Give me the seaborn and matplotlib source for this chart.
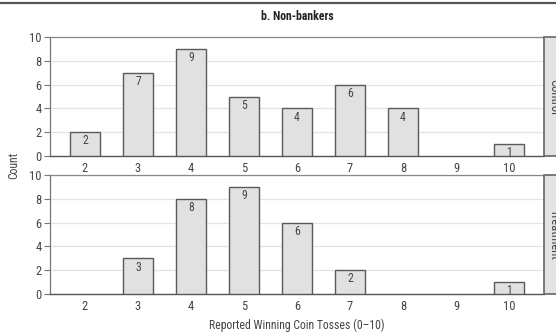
import matplotlib
matplotlib.use("Agg")
import matplotlib.pyplot as plt
import seaborn as sns
import pandas as pd
from matplotlib.patches import Rectangle
from matplotlib.lines import Line2D

# Reported winning coin tosses for non-bankers, by condition
tosses = [2, 3, 4, 5, 6, 7, 8, 9, 10]
control_counts = [2, 7, 9, 5, 4, 6, 4, 0, 1]
treatment_counts = [0, 3, 8, 9, 6, 2, 0, 0, 1]
panel_names = ["Control", "Treatment"]
title = "b. Non-bankers"
x_label = "Reported Winning Coin Tosses (0\u201310)"
y_label = "Count"

sns.set_style("white")
plt.rcParams["font.family"] = ["Roboto Condensed", "Archivo Narrow", "Liberation Sans", "DejaVu Sans"]

fig = plt.figure(figsize=(5.56, 3.32), dpi=100)
W, H = 556, 332

def fx(px):
    return px / W

def fy(py):
    return 1 - py / H

left, right = 50, 544
panels = [(37, 156), (175, 294)]
fill = "#e1e1e1"
edge = "#5a5a5a"
text_col = "#444444"
fs = 8.5

for (top, bottom), name, counts in zip(panels, panel_names, [control_counts, treatment_counts]):
    ax = fig.add_axes([fx(left), fy(bottom), fx(right) - fx(left), (bottom - top) / H])
    df = pd.DataFrame({"toss": [str(t) for t in tosses], "count": counts})
    df_nz = df[df["count"] > 0]
    sns.barplot(data=df_nz, x="toss", y="count", order=[str(t) for t in tosses],
                color=fill, edgecolor=edge, linewidth=1.0, width=0.55,
                saturation=1, ax=ax, zorder=3)
    for c in ax.containers:
        ax.bar_label(c, labels=[f"{int(v)}" for v in c.datavalues], padding=-11,
                     fontsize=fs, color=text_col, zorder=4)
    ax.set_xlim(-0.66, len(tosses) - 1 + 0.66)
    ax.set_ylim(0, 10)
    ax.set_yticks([0, 2, 4, 6, 8, 10])
    ax.set_xlabel("")
    ax.set_ylabel("")
    ax.yaxis.grid(True, color="#e4e4e4", linewidth=0.9, zorder=0)
    ax.set_axisbelow(True)
    ax.tick_params(axis="y", length=4, width=0.8, color="#777777", labelsize=fs + 0.5,
                   labelcolor=text_col, pad=2, left=True)
    ax.tick_params(axis="x", length=0, labelsize=fs + 0.5, labelcolor=text_col, pad=4)
    ax.spines["top"].set_visible(True)
    ax.spines["top"].set_color("#888888")
    ax.spines["top"].set_linewidth(0.9)
    ax.spines["right"].set_visible(False)
    ax.spines["left"].set_color("#777777")
    ax.spines["left"].set_linewidth(0.9)
    ax.spines["bottom"].set_color("#555555")
    ax.spines["bottom"].set_linewidth(1.0)

    # facet strip on the right edge
    strip = Rectangle((fx(right), fy(bottom)), fx(W + 20) - fx(right), (bottom - top) / H,
                      transform=fig.transFigure, facecolor="#e3e3e3", edgecolor="#666666",
                      linewidth=1.2, clip_on=False)
    fig.add_artist(strip)
    fig.text(fx(554), fy((top + bottom) / 2), name, rotation=270, ha="center", va="center",
             fontsize=fs + 0.5, color=text_col)

# rule across the top of the figure
fig.add_artist(Line2D([0, 1], [fy(3), fy(3)], transform=fig.transFigure,
                      color="#555555", linewidth=1.6))

fig.text(fx((left + right) / 2), fy(17), title, ha="center", va="center",
         fontsize=fs, fontweight="bold", color="#222222")
fig.text(fx(14), fy(165), y_label, rotation=90, ha="center", va="center",
         fontsize=fs, color=text_col)
fig.text(fx((left + right) / 2), fy(325), x_label, ha="center", va="center",
         fontsize=fs, color=text_col)

fig.savefig("out.png", dpi=100)
